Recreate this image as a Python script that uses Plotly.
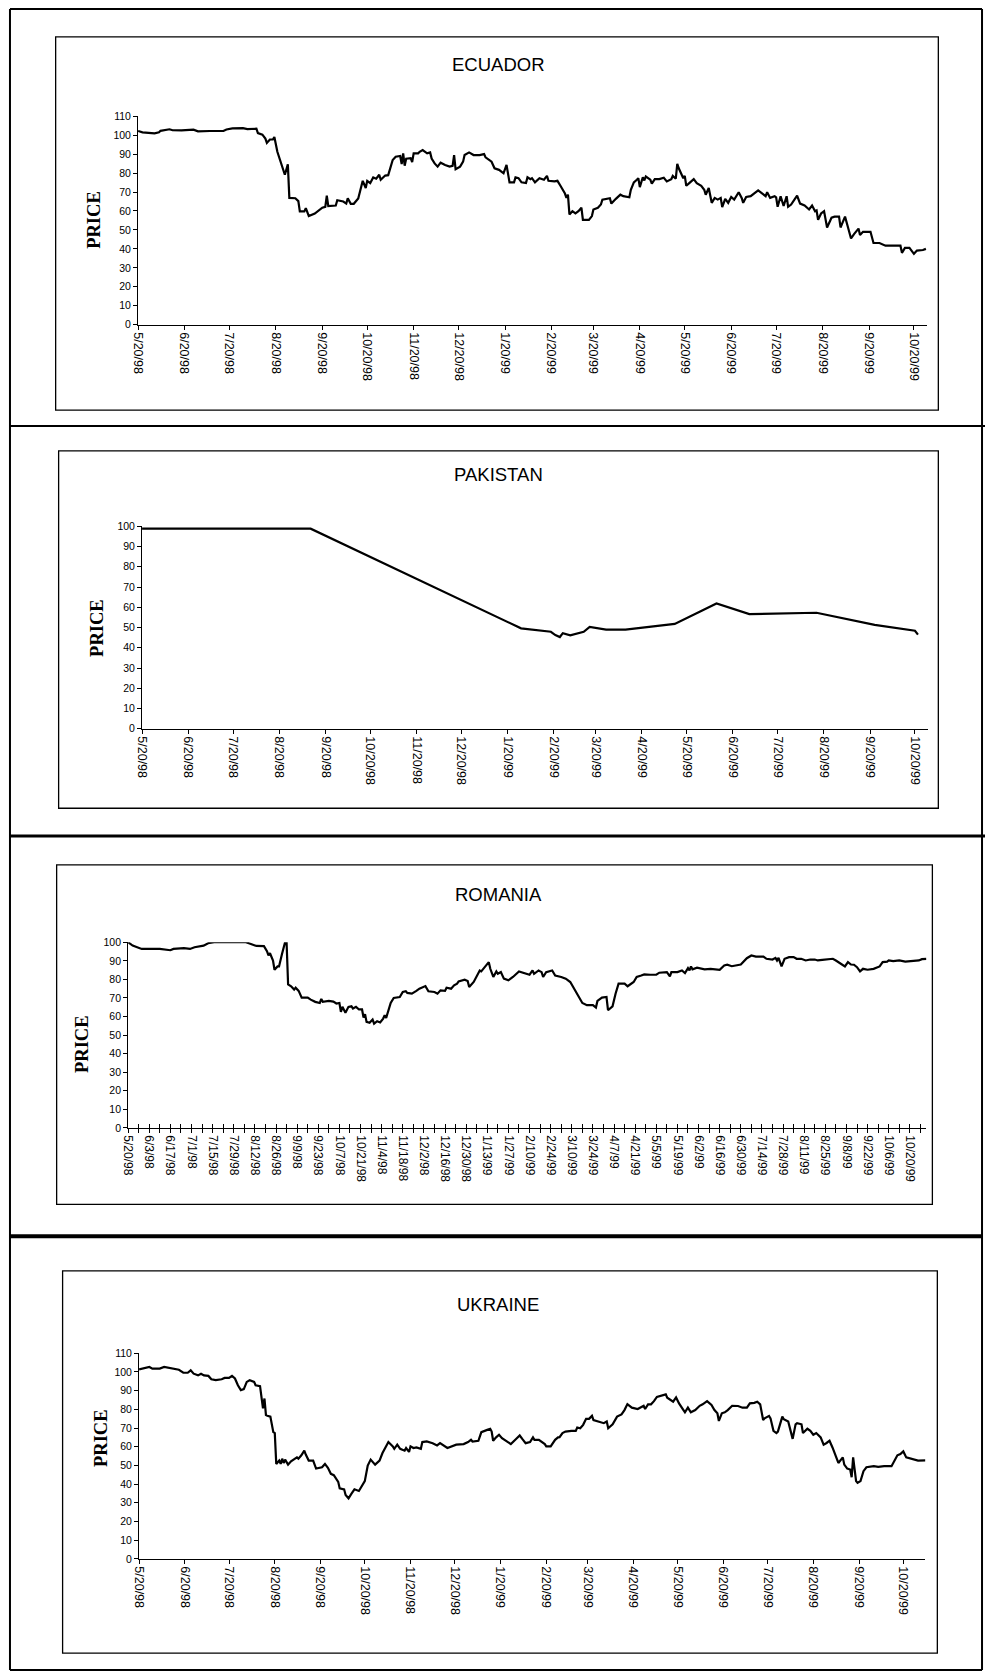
import pandas as pd
import plotly.graph_objects as go

W, H = 985, 1679
START = pd.Timestamp("1998-05-20")  # first date on every x axis

# --- data: day offsets from 5/20/98 and price ---
ecuador_day = [0, 3, 11, 14, 15, 21, 23, 29, 37, 40, 48, 57, 59, 63, 70, 73, 79, 80, 83, 85,
               86, 88, 90, 91, 93, 95, 98, 100, 101, 105, 107, 108, 111, 112, 114, 118, 121, 123, 125, 126,
               127, 132, 133, 137, 139, 140, 142, 144, 147, 150, 152, 153, 155, 157, 159, 161, 162, 165, 167, 168,
               170, 172, 175, 176, 177, 178, 179, 182, 183, 184, 187, 188, 190, 193, 195, 196, 198, 200, 202, 205,
               208, 210, 211, 212, 215, 217, 218, 221, 224, 228, 231, 232, 236, 238, 241, 244, 246, 248, 251, 252,
               254, 256, 259, 260, 262, 263, 265, 268, 271, 273, 274, 278, 280, 282, 285, 286, 287, 288, 290, 292,
               294, 296, 297, 301, 303, 304, 307, 309, 310, 315, 316, 319, 322, 324, 328, 329, 331, 333, 334, 335,
               337, 338, 339, 342, 343, 345, 348, 351, 353, 356, 357, 359, 360, 361, 364, 365, 366, 368, 371, 373,
               376, 378, 379, 381, 383, 385, 387, 389, 390, 392, 394, 396, 398, 401, 403, 404, 406, 409, 414, 419,
               420, 422, 425, 426, 427, 429, 431, 433, 434, 436, 440, 442, 445, 448, 450, 452, 453, 454, 456, 458,
               460, 462, 463, 465, 468, 469, 472, 474, 476, 478, 481, 482, 484, 489, 491, 495, 499, 509, 510, 512,
               515, 518, 520, 524, 526]
ecuador_price = [102.2, 101.5, 101.0, 101.5, 102.3, 103.1, 102.6, 102.5, 102.9, 102.0, 102.2, 102.2, 103.0, 103.6, 103.7, 103.2, 103.4, 101.1, 100.3, 98.2,
                 95.9, 97.7, 97.7, 99.0, 91.2, 86.0, 79.1, 84.6, 66.9, 66.7, 65.2, 59.8, 59.8, 61.5, 57.3, 58.6, 60.3, 61.7, 62.2, 68.1,
                 62.6, 62.9, 65.7, 65.0, 63.9, 66.7, 63.8, 63.8, 66.6, 75.9, 72.1, 75.9, 74.7, 77.7, 77.0, 79.1, 76.5, 78.7, 78.9, 81.7,
                 86.9, 88.6, 89.0, 84.8, 90.4, 83.9, 87.6, 87.9, 85.8, 90.4, 90.4, 91.2, 92.1, 90.4, 90.9, 87.7, 85.1, 83.4, 85.5, 84.3,
                 83.4, 83.8, 89.5, 82.0, 83.4, 86.0, 89.5, 90.9, 89.5, 89.5, 90.0, 88.3, 86.0, 82.5, 81.7, 79.9, 84.3, 75.1, 75.1, 77.7,
                 77.3, 75.1, 74.7, 77.8, 76.8, 77.3, 75.1, 77.3, 76.5, 78.5, 75.9, 75.6, 75.9, 73.3, 69.2, 66.9, 68.6, 58.2, 59.9, 58.7,
                 59.9, 61.7, 55.3, 55.3, 57.3, 60.8, 61.7, 63.4, 66.0, 66.7, 63.9, 66.4, 68.6, 67.8, 67.2, 71.2, 75.1, 76.5, 77.3, 72.6,
                 77.8, 76.1, 78.2, 76.5, 74.4, 76.8, 76.8, 77.5, 75.6, 76.8, 78.5, 77.0, 84.8, 82.5, 77.3, 78.5, 73.3, 74.7, 76.8, 74.7,
                 73.3, 71.2, 68.6, 72.1, 64.3, 66.9, 66.0, 66.9, 62.0, 66.4, 64.3, 67.4, 66.0, 69.9, 66.9, 64.3, 67.4, 67.8, 70.9, 67.8,
                 69.9, 66.9, 67.8, 67.2, 62.2, 67.8, 62.6, 67.8, 62.2, 63.4, 68.1, 63.9, 62.9, 60.8, 62.9, 59.9, 60.3, 55.3, 58.7, 59.9,
                 51.3, 54.7, 56.5, 57.0, 57.0, 51.3, 57.0, 51.3, 45.5, 47.8, 50.7, 47.3, 49.0, 49.0, 43.1, 43.1, 41.7, 41.7, 37.9, 40.5,
                 40.5, 37.4, 39.1, 39.4, 40.0]

pakistan_day = [0, 113, 254, 274, 277, 280, 282, 287, 296, 300, 311, 324, 357, 385, 407, 452, 491, 518, 520]
pakistan_price = [98.8, 98.8, 49.6, 47.9, 46.3, 45.3, 47.2, 46.1, 47.9, 50.3, 49.0, 49.0, 51.8, 61.9, 56.6, 57.3, 51.3, 48.4, 46.5]

romania_day = [0, 3, 6, 9, 21, 25, 28, 30, 37, 41, 44, 50, 53, 57, 78, 80, 85, 90, 92, 93,
               94, 96, 97, 99, 100, 102, 104, 105, 106, 108, 110, 111, 113, 115, 119, 121, 124, 127, 128, 129,
               133, 136, 138, 140, 141, 142, 144, 146, 148, 149, 151, 153, 155, 156, 157, 158, 160, 162, 163, 165,
               167, 169, 170, 171, 174, 176, 180, 182, 184, 185, 188, 191, 193, 197, 199, 203, 205, 207, 210, 211,
               214, 216, 218, 219, 223, 225, 226, 229, 231, 233, 234, 236, 239, 240, 242, 244, 245, 247, 249, 252,
               255, 259, 263, 266, 268, 269, 272, 274, 275, 277, 281, 283, 287, 290, 293, 297, 301, 304, 308, 310,
               311, 314, 317, 318, 321, 323, 325, 329, 331, 335, 337, 340, 342, 346, 350, 352, 357, 359, 360, 364,
               367, 369, 371, 372, 373, 374, 377, 382, 386, 392, 395, 397, 400, 406, 408, 410, 413, 416, 421, 423,
               427, 429, 430, 431, 433, 435, 438, 441, 443, 446, 449, 452, 455, 457, 460, 463, 467, 469, 472, 475,
               477, 479, 481, 483, 485, 487, 490, 494, 498, 500, 503, 504, 507, 511, 515, 521, 524, 526, 529]
romania_price = [100.0, 98.2, 97.3, 96.4, 96.4, 95.9, 95.7, 96.4, 96.8, 96.4, 97.3, 98.2, 99.5, 100.0, 100.0, 99.5, 98.0, 97.9, 95.2, 92.9,
                 94.1, 90.2, 85.2, 87.0, 87.0, 93.8, 100.0, 100.0, 77.3, 76.3, 74.5, 75.5, 73.8, 70.2, 70.2, 69.1, 67.9, 67.3, 69.5, 67.9,
                 68.4, 68.0, 67.0, 67.3, 62.5, 65.2, 62.0, 65.2, 65.5, 64.3, 65.2, 63.8, 63.8, 59.5, 61.2, 57.1, 56.6, 58.4, 56.2, 57.5,
                 56.8, 58.9, 60.7, 59.3, 67.3, 70.0, 70.5, 73.2, 73.6, 72.7, 72.3, 73.8, 75.0, 76.4, 73.6, 73.2, 72.3, 74.1, 73.8, 75.5,
                 75.0, 76.8, 77.7, 78.9, 79.8, 79.1, 75.9, 78.6, 81.6, 84.8, 84.3, 86.3, 89.3, 85.7, 81.3, 84.3, 83.0, 83.9, 80.4, 79.5,
                 81.3, 84.3, 83.4, 82.5, 84.8, 83.0, 84.8, 83.9, 81.3, 83.9, 84.8, 82.1, 81.3, 80.4, 78.6, 73.2, 67.3, 66.1, 66.1, 64.8,
                 68.4, 70.2, 70.5, 63.4, 65.5, 72.3, 77.7, 77.7, 76.3, 78.6, 81.3, 82.1, 82.7, 82.5, 82.5, 83.6, 83.9, 81.6, 83.9, 83.9,
                 84.8, 83.4, 86.1, 84.8, 87.0, 85.4, 86.3, 85.4, 85.7, 85.2, 87.5, 87.9, 87.1, 88.0, 89.8, 91.4, 92.9, 92.3, 92.3, 91.1,
                 90.7, 91.6, 90.2, 91.6, 87.0, 91.1, 92.0, 92.0, 91.1, 91.1, 90.2, 90.7, 90.7, 90.2, 90.5, 90.7, 91.1, 90.2, 88.4, 87.0,
                 89.3, 88.0, 87.9, 86.6, 84.3, 85.7, 85.2, 85.7, 87.0, 89.3, 89.6, 90.2, 89.8, 90.2, 89.6, 89.8, 90.2, 90.9, 91.1]

ukraine_day = [0, 4, 7, 9, 14, 17, 20, 24, 27, 30, 33, 35, 37, 40, 42, 44, 47, 49, 52, 56,
               58, 61, 63, 65, 67, 69, 71, 73, 75, 78, 79, 82, 83, 84, 85, 86, 87, 89, 91, 92,
               93, 95, 96, 97, 98, 99, 101, 103, 107, 108, 110, 112, 113, 115, 118, 120, 124, 126, 128, 130,
               132, 135, 136, 139, 140, 142, 144, 146, 149, 151, 153, 155, 157, 160, 163, 165, 167, 169, 172, 173,
               175, 177, 180, 181, 183, 184, 186, 188, 191, 192, 195, 199, 202, 204, 209, 212, 215, 220, 223, 225,
               226, 230, 232, 236, 238, 239, 240, 242, 244, 246, 249, 252, 255, 258, 260, 262, 265, 267, 268, 271,
               275, 276, 279, 282, 284, 285, 287, 289, 293, 296, 297, 299, 301, 303, 305, 307, 308, 311, 313, 315,
               317, 318, 321, 324, 327, 329, 331, 334, 338, 340, 342, 343, 345, 347, 349, 351, 354, 357, 358, 361,
               362, 364, 366, 369, 370, 372, 374, 377, 380, 382, 385, 388, 390, 392, 393, 395, 397, 399, 402, 406,
               409, 412, 414, 417, 419, 421, 423, 424, 427, 428, 430, 432, 433, 436, 437, 440, 441, 443, 445, 446,
               449, 450, 453, 455, 457, 459, 462, 464, 466, 468, 470, 472, 474, 477, 478, 480, 482, 483, 484, 486,
               487, 489, 491, 493, 498, 501, 505, 510, 512, 514, 516, 518, 520, 523, 526, 528, 533]
ukraine_price = [101.4, 102.3, 102.7, 101.8, 101.8, 102.7, 102.3, 101.4, 101.2, 99.6, 99.6, 100.9, 99.1, 98.2, 99.1, 98.2, 97.9, 96.1, 95.6, 96.1,
                 96.8, 96.8, 97.9, 96.5, 92.9, 90.3, 90.8, 94.7, 95.6, 94.7, 92.9, 92.4, 85.8, 80.5, 85.8, 77.0, 76.6, 76.1, 67.8, 67.3,
                 50.8, 52.6, 50.8, 53.6, 51.3, 53.1, 50.4, 52.2, 54.3, 53.6, 55.4, 57.9, 55.8, 52.6, 52.6, 48.3, 49.0, 50.8, 48.7, 45.5,
                 44.8, 41.2, 37.7, 37.2, 34.2, 32.4, 34.9, 37.2, 36.3, 38.9, 41.6, 49.9, 53.1, 50.4, 52.6, 56.6, 59.3, 62.5, 60.2, 58.9,
                 61.1, 58.9, 57.9, 59.3, 57.2, 60.2, 59.3, 59.6, 58.9, 62.5, 62.8, 61.9, 60.7, 61.9, 59.3, 60.2, 61.1, 61.4, 62.5, 63.7,
                 62.8, 63.2, 67.8, 69.0, 69.6, 68.1, 63.2, 65.0, 66.4, 64.6, 62.8, 61.4, 63.7, 66.0, 63.9, 61.9, 62.5, 65.0, 63.7, 63.7,
                 61.4, 60.2, 60.2, 63.7, 65.0, 65.1, 67.3, 68.1, 68.5, 68.5, 70.3, 69.9, 71.7, 74.9, 74.9, 76.5, 74.3, 73.5, 73.1, 72.6,
                 73.5, 69.9, 72.0, 76.1, 77.3, 79.6, 82.8, 80.9, 80.2, 80.9, 81.9, 80.2, 82.7, 82.7, 84.4, 86.7, 87.3, 88.0, 86.2, 84.4,
                 84.1, 86.4, 83.2, 79.6, 78.4, 80.9, 78.4, 79.6, 81.9, 82.7, 84.4, 82.3, 79.6, 77.9, 73.8, 77.9, 78.4, 79.6, 81.9, 81.8,
                 80.9, 80.9, 83.2, 83.5, 84.1, 82.7, 74.3, 75.2, 76.5, 75.2, 68.5, 67.3, 68.1, 76.1, 74.7, 73.5, 69.9, 64.2, 72.0, 72.6,
                 72.0, 67.3, 69.6, 68.5, 66.4, 67.3, 65.0, 61.1, 62.0, 63.2, 59.6, 54.9, 51.3, 54.3, 50.4, 48.3, 47.8, 43.7, 54.3, 41.6,
                 40.7, 41.6, 46.9, 49.0, 49.6, 49.2, 49.6, 49.6, 52.2, 55.4, 56.1, 57.5, 54.3, 53.6, 53.1, 52.6, 52.7]

titles = ["ECUADOR", "PAKISTAN", "ROMANIA", "UKRAINE"]
y_max = [110, 100, 100, 110]
x_end_day = [527, 527, 529, 533]

# --- page geometry in pixels (left, right, bottom, top of the plot area) ---
plot_px = [(132, 927, 321, 111), (136, 928, 728, 524), (122, 926, 1130, 943), (133, 925, 1564, 1357)]
box_px = [(49, 938, 31, 407), (52, 938, 448, 808), (50, 932, 865, 1207), (56, 937, 1274, 1659)]
title_px = [(495, 59), (495, 472), (495, 895), (495, 1308)]
price_px = [(88, 215), (90, 626), (75, 1045), (94, 1442)]


def px(x):
    return x / W


def py(y):
    return 1 - y / H


def to_dates(days):
    return (START + pd.to_timedelta(days, unit="D")).strftime("%Y-%m-%d").tolist()


series = [(ecuador_day, ecuador_price), (pakistan_day, pakistan_price),
          (romania_day, romania_price), (ukraine_day, ukraine_price)]

SANS = "Liberation Sans, Arial, sans-serif"
DAY_MS = 86400000

fig = go.Figure()
layout = {}
annotations = []
shapes = []

for i, (days, price) in enumerate(series):
    n = i + 1
    xa, ya = ("x" if n == 1 else f"x{n}"), ("y" if n == 1 else f"y{n}")
    fig.add_trace(go.Scatter(x=to_dates(days), y=price, mode="lines", xaxis=xa, yaxis=ya,
                             line=dict(color="black", width=2.2), showlegend=False, hoverinfo="skip"))

    l, r, b, t = plot_px[i]
    end = to_dates([x_end_day[i]])[0]
    xaxis = dict(domain=[px(l), px(r)], anchor=ya, type="date", range=["1998-05-20", end],
                 showgrid=False, zeroline=False, showline=True, linecolor="black", linewidth=1,
                 ticks="outside", ticklen=4, tickcolor="black", tickwidth=1, tickangle=90,
                 tick0="1998-05-20", dtick="M1", tickformat="%-m/%d/%y",
                 tickfont=dict(family=SANS, size=12.5, color="black"))
    if n == 3:
        xaxis.update(dtick=14 * DAY_MS, tickformat="%-m/%-d/%y", tickfont=dict(family=SANS, size=12, color="black"),
                     minor=dict(tick0="1998-05-20", dtick=7 * DAY_MS, ticks="outside", ticklen=4, tickcolor="black"))
    yaxis = dict(domain=[py(b), py(t)], anchor=xa, range=[0, y_max[i]], dtick=10,
                 showgrid=False, zeroline=False, showline=True, linecolor="black", linewidth=1,
                 ticks="outside", ticklen=4, tickcolor="black", tickwidth=1,
                 tickfont=dict(family=SANS, size=10.5, color="black"))
    layout["xaxis" if n == 1 else f"xaxis{n}"] = xaxis
    layout["yaxis" if n == 1 else f"yaxis{n}"] = yaxis

    annotations.append(dict(text=titles[i], x=px(title_px[i][0]), y=py(title_px[i][1]), xref="paper", yref="paper",
                            xanchor="center", yanchor="middle", showarrow=False,
                            font=dict(family=SANS, size=18.5, color="black")))
    annotations.append(dict(text="<b>PRICE</b>", x=px(price_px[i][0]), y=py(price_px[i][1]), xref="paper",
                            yref="paper", xanchor="center", yanchor="middle", showarrow=False, textangle=-90,
                            font=dict(family="Liberation Serif, Times New Roman, serif", size=18.5, color="black")))
    bx0, bx1, by0, by1 = box_px[i]
    shapes.append(dict(type="rect", xref="paper", yref="paper", x0=px(bx0), x1=px(bx1), y0=py(by0), y1=py(by1),
                       line=dict(color="black", width=1.3)))

# Romania ticks cross the axis line: mirror the weekly ticks inside on an overlay axis
l, r, b, t = plot_px[2]
layout["xaxis5"] = dict(domain=[px(l), px(r)], anchor="y3", overlaying="x3", type="date",
                        range=["1998-05-20", to_dates([x_end_day[2]])[0]], showgrid=False, zeroline=False,
                        showline=False, showticklabels=False, ticks="inside", ticklen=4, tickcolor="black",
                        tick0="1998-05-20", dtick=7 * DAY_MS)
fig.add_trace(go.Scatter(x=[], y=[], xaxis="x5", yaxis="y3", showlegend=False, hoverinfo="skip"))

# outer page frame and the rules between the four panels
frame = [((3, 3), (982, 3), 2), ((3, 3), (3, 1676), 2), ((982, 3), (982, 1676), 2),
         ((3, 423), (985, 423), 2), ((3, 836), (985, 836), 3), ((3, 1239), (982, 1239), 4),
         ((3, 1676), (982, 1676), 2)]
for (xa0, ya0), (xa1, ya1), w in frame:
    shapes.append(dict(type="line", xref="paper", yref="paper", x0=px(xa0), y0=py(ya0), x1=px(xa1), y1=py(ya1),
                       line=dict(color="black", width=w)))

fig.update_layout(**layout)
fig.update_layout(annotations=annotations, shapes=shapes, width=W, height=H, autosize=False,
                  margin=dict(l=0, r=0, t=0, b=0, pad=0), paper_bgcolor="white", plot_bgcolor="white",
                  showlegend=False)

# the page is exactly the figure size, so drop the browser's default body margin
fig.write_html("out.html", config={"displayModeBar": False},
               post_script="document.body.style.margin = '0px';")
